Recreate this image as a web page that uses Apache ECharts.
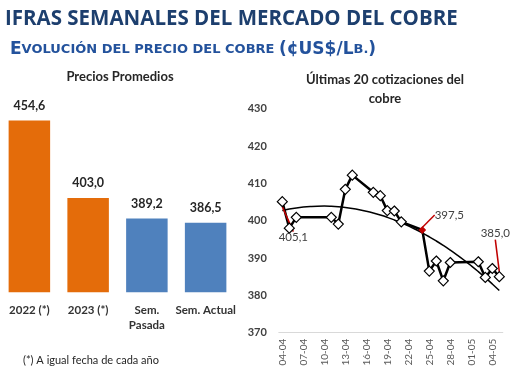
<!DOCTYPE html>
<html><head><meta charset="utf-8">
<script src="https://cdn.jsdelivr.net/npm/echarts@6/dist/echarts.min.js"></script>
<style>html,body{margin:0;padding:0;background:#fff}#c{width:510px;height:382px}</style>
</head><body><div id="c"></div>
<script>
// Left chart: average prices
const barCategories = ['2022 (*)', '2023 (*)', 'Sem.\nPasada', 'Sem. Actual'];
const barValues = [454.6, 403.0, 389.2, 386.5];
const barColors = ['#E46C0A', '#E46C0A', '#4F81BD', '#4F81BD'];

// Right chart: calendar days on the axis (DD-MM)
const dayCategories = ['04-04','05-04','06-04','07-04','08-04','09-04','10-04','11-04','12-04','13-04','14-04','15-04','16-04','17-04','18-04','19-04','20-04','21-04','22-04','23-04','24-04','25-04','26-04','27-04','28-04','29-04','30-04','01-05','02-05','03-05','04-05','05-05'];
// Quotation days and prices
const quoteDays = ['04-04','05-04','06-04','11-04','12-04','13-04','14-04','17-04','18-04','19-04','20-04','21-04','24-04','25-04','26-04','27-04','28-04','02-05','03-05','04-05','05-05'];
const quoteValues = [405.1, 398.0, 400.9, 400.9, 399.1, 408.4, 412.2, 407.6, 406.7, 402.7, 402.6, 399.7, 397.5, 386.5, 389.2, 383.9, 388.8, 389.0, 384.8, 387.2, 385.0];
const labelledDays = ['04-04', '24-04', '05-05'];
const yTicks = [370, 380, 390, 400, 410, 420, 430];

const fmt = v => v.toFixed(1).replace('.', ',');

// quadratic least-squares trend over day index
function quadFit(xs, ys) {
  const n = xs.length; let s = [0,0,0,0,0], t = [0,0,0];
  for (let i = 0; i < n; i++) { const x = xs[i], y = ys[i];
    s[0]+=1; s[1]+=x; s[2]+=x*x; s[3]+=x*x*x; s[4]+=x*x*x*x; t[0]+=y; t[1]+=x*y; t[2]+=x*x*y; }
  const M = [[s[0],s[1],s[2],t[0]],[s[1],s[2],s[3],t[1]],[s[2],s[3],s[4],t[2]]];
  for (let i = 0; i < 3; i++) { for (let k = i+1; k < 3; k++) { const f = M[k][i]/M[i][i]; for (let j = i; j < 4; j++) M[k][j] -= f*M[i][j]; } }
  const c = [0,0,0];
  for (let i = 2; i >= 0; i--) { let v = M[i][3]; for (let j = i+1; j < 3; j++) v -= M[i][j]*c[j]; c[i] = v/M[i][i]; }
  return c;
}
const xIdx = quoteDays.map(d => dayCategories.indexOf(d));
const coef = quadFit(xIdx, quoteValues);
const trendData = dayCategories.map((d, i) => [d, coef[0] + coef[1]*i + coef[2]*i*i]);

const labelOffsets = { '04-04': [11, 36], '24-04': [27, -15], '05-05': [-4, -43] };

const lineData = quoteDays.map((d, i) => {
  const item = { value: [d, quoteValues[i]] };
  if (labelledDays.includes(d)) {
    item.label = { show: true, formatter: fmt(quoteValues[i]) };
    if (d === '24-04') { item.itemStyle = { color: '#C00000', borderColor: '#C00000' }; item.symbolSize = 6; }
  }
  return item;
});

const font = 'Lato, "Open Sans", sans-serif';
const chart = echarts.init(document.getElementById('c'));
chart.setOption({
  animation: false,
  title: [
    { text: 'IFRAS SEMANALES DEL MERCADO DEL COBRE', left: 0, top: 4,
      textStyle: { fontFamily: '"Open Sans", sans-serif', fontWeight: 'bold', fontSize: 20.5, color: '#1D3F6E' } },
    { text: '{a|E}{b|VOLUCIÓN DEL PRECIO DEL COBRE }{a|(¢US$/L}{b|B.}{a|)}', left: 5, top: 36,
      textStyle: { rich: {
        a: { fontFamily: '"DejaVu Sans", sans-serif', fontWeight: 'bold', fontSize: 17, color: '#23529C' },
        b: { fontFamily: '"DejaVu Sans", sans-serif', fontWeight: 'bold', fontSize: 13, color: '#23529C' } } } },
    { text: 'Precios Promedios', left: 115, top: 65, textAlign: 'center',
      textStyle: { fontFamily: font, fontWeight: 'bold', fontSize: 13, color: '#262626' } },
    { text: 'Últimas 20 cotizaciones del\ncobre', left: 380, top: 65, textAlign: 'center',
      textStyle: { fontFamily: font, fontWeight: 'bold', fontSize: 13, color: '#262626', lineHeight: 19, align: 'center' } },
    { text: '(*) A igual fecha de cada año', left: 18, top: 350,
      textStyle: { fontFamily: font, fontWeight: 'normal', fontSize: 11, color: '#262626' } }
  ],
  grid: [
    { left: 0, width: 235, top: 112.5, height: 179.8 },
    { left: 278.8, width: 224, top: 108.7, height: 224 }
  ],
  xAxis: [
    { gridIndex: 0, type: 'category', data: barCategories,
      axisLine: { show: false }, axisTick: { show: false },
      axisLabel: { interval: 0, margin: 10, fontFamily: font, fontWeight: 'bold', fontSize: 11.5, color: '#333', lineHeight: 15 } },
    { gridIndex: 1, type: 'category', data: dayCategories, boundaryGap: true,
      axisLine: { lineStyle: { color: '#D9D9D9', width: 1 } }, axisTick: { show: false },
      axisLabel: { interval: 2, rotate: 90, margin: 6, fontFamily: font, fontSize: 10, color: '#595959' } }
  ],
  yAxis: [
    { gridIndex: 0, type: 'value', min: 340, max: 460, show: false },
    { gridIndex: 1, type: 'value', min: yTicks[0], max: yTicks[yTicks.length-1], interval: 10,
      axisLine: { show: false }, axisTick: { show: false }, splitLine: { show: false },
      axisLabel: { margin: 12, fontFamily: font, fontWeight: 'bold', fontSize: 11, color: '#404040' } }
  ],
  series: [
    { type: 'bar', xAxisIndex: 0, yAxisIndex: 0, barWidth: 41.5,
      data: barValues.map((v, i) => ({ value: v, itemStyle: { color: barColors[i] } })),
      label: { show: true, position: 'top', distance: 8, formatter: p => fmt(p.value),
        fontFamily: font, fontWeight: 'bold', fontSize: 12.5, color: '#262626' } },
    { type: 'line', xAxisIndex: 1, yAxisIndex: 1, data: trendData, smooth: true, showSymbol: false,
      lineStyle: { color: '#000', width: 1.5 }, z: 1 },
    { type: 'line', xAxisIndex: 1, yAxisIndex: 1, data: lineData,
      symbol: 'diamond', symbolSize: 10, showSymbol: true, showAllSymbol: true, z: 3,
      lineStyle: { color: '#000', width: 2.5 },
      itemStyle: { color: '#fff', borderColor: '#000', borderWidth: 1.2 },
      label: { show: false, position: 'inside', fontFamily: font, fontSize: 11.5, color: '#404040' },
      labelLine: { show: true, lineStyle: { color: '#C00000', width: 1.5 } },
      labelLayout: function (p) {
        const d = quoteDays[p.dataIndex];
        const o = labelOffsets[d];
        return o ? { dx: o[0], dy: o[1] } : {};
      } }
  ]
});
</script></body></html>
